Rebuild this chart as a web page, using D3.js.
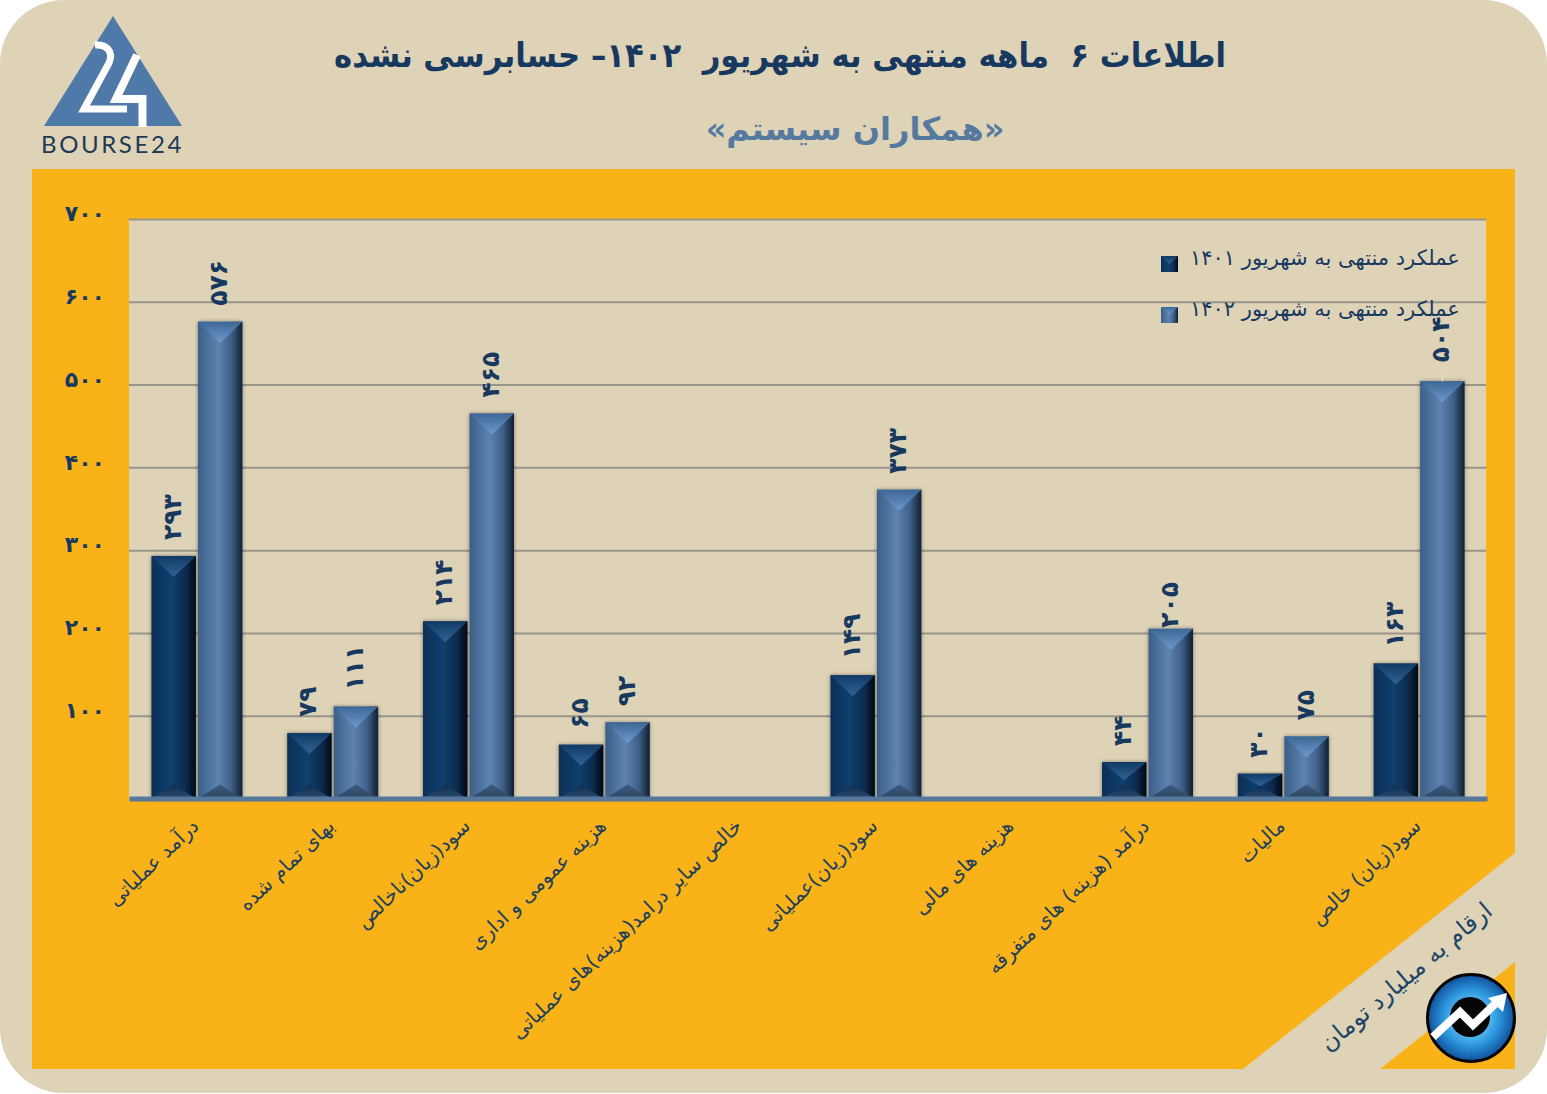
<!DOCTYPE html>
<html lang="fa">
<head>
  <meta charset="UTF-8">
  <title>همکاران سیستم</title>
  <style>
    html, body { margin: 0; padding: 0; background: #fff; }
    svg { display: block; }
    text { font-family: "DejaVu Sans", sans-serif; white-space: pre; }
  </style>
</head>
<body>
  <div id="chart"></div>
  <script src="https://d3js.org/d3.v7.min.js"></script>
  <script>
    // data
    const categories = [
      'درآمد عملیاتی',
      'بهای تمام شده',
      'سود(زیان)ناخالص',
      'هزینه عمومی و اداری',
      'خالص سایر درامد(هزینه)های عملیاتی',
      'سود(زیان)عملیاتی',
      'هزینه های مالی',
      'درآمد (هزینه) های متفرقه',
      'مالیات',
      'سود(زیان) خالص'
    ]
    const values1401 = [293, 79, 214, 65, null, 149, null, 44, 30, 163]
    const values1402 = [576, 111, 465, 92, null, 373, null, 205, 75, 504]
    const seriesNames = ['عملکرد منتهی به شهریور ۱۴۰۱', 'عملکرد منتهی به شهریور ۱۴۰۲']
    const yTicks = [100, 200, 300, 400, 500, 600, 700]

    const titleText = 'اطلاعات ۶  ماهه منتهی به شهریور  ۱۴۰۲– حسابرسی نشده'
    const subtitleText = '«همکاران سیستم»'
    const unitText = 'ارقام به میلیارد تومان'

    const width = 1547, height = 1094
    const plot = {left: 129, right: 1486, top: 219, bottom: 798.5}
    const navy = '#17395f'
    const beige = '#dfd3b7'
    const orange = '#f9b218'

    const toFa = n => String(n).replace(/\d/g, d => '۰۱۲۳۴۵۶۷۸۹'[d])

    const svg = d3.select('#chart').append('svg')
      .attr('width', width)
      .attr('height', height)
    const defs = svg.append('defs')

    function gradient (id, stops, vertical) {
      const g = defs.append('linearGradient').attr('id', id)
        .attr('x1', 0).attr('y1', 0)
        .attr('x2', vertical ? 0 : 1).attr('y2', vertical ? 1 : 0)
      stops.forEach(s => g.append('stop').attr('offset', s[0]).attr('stop-color', s[1]))
    }
    gradient('bar0', [[0, '#0b2f57'], [0.45, '#123f6e'], [0.75, '#0b2c50'], [1, '#010a15']])
    gradient('bar1', [[0, '#3c5f88'], [0.45, '#5d83b1'], [0.75, '#3f6088'], [1, '#0f1f33']])
    gradient('top0', [[0, '#123a66'], [1, '#2f6496']], true)
    gradient('top1', [[0, '#3d6794'], [1, '#7099cf']], true)
    gradient('low0', [[0, '#0d2f54'], [1, '#2b4a6a']], true)
    gradient('low1', [[0, '#3c5b80'], [1, '#2f465f']], true)

    const shadow = defs.append('filter').attr('id', 'barShadow')
      .attr('x', '-20%').attr('y', '-10%').attr('width', '140%').attr('height', '120%')
    shadow.append('feDropShadow')
      .attr('dx', 0).attr('dy', 0).attr('stdDeviation', 2)
      .attr('flood-color', '#000').attr('flood-opacity', 0.4)

    const eye = defs.append('radialGradient').attr('id', 'eye')
    eye.append('stop').attr('offset', 0.35).attr('stop-color', '#5fc0f2')
    eye.append('stop').attr('offset', 0.65).attr('stop-color', '#2a94dc')
    eye.append('stop').attr('offset', 1).attr('stop-color', '#10509a')

    // card and orange panel
    svg.append('rect')
      .attr('width', width).attr('height', height - 1)
      .attr('rx', 64).attr('fill', beige)
    svg.append('rect')
      .attr('x', 32).attr('y', 169)
      .attr('width', 1483).attr('height', 900)
      .attr('fill', orange)
    svg.append('path')
      .attr('d', 'M1515 853L1243 1069L1380 1069L1515 962Z')
      .attr('fill', beige)

    // logo top left
    const logo = svg.append('g')
    logo.append('path').attr('d', 'M113 16L182 126L44 126Z').attr('fill', '#4f79a8')
    logo.append('path')
      .attr('d', 'M95 45C106 44 114 51 109 63L84 109L127 109')
      .attr('fill', 'none').attr('stroke', '#fff').attr('stroke-width', 7)
    logo.append('path')
      .attr('d', 'M137 55L116 99L142.5 99L142.5 127')
      .attr('fill', 'none').attr('stroke', '#fff').attr('stroke-width', 8)
    logo.append('text')
      .attr('x', 112.5).attr('y', 153)
      .attr('text-anchor', 'middle')
      .attr('fill', '#1d3a55')
      .style('font-family', 'Lato, sans-serif')
      .style('font-size', '24px')
      .style('letter-spacing', '2.6px')
      .text('BOURSE24')

    // titles
    svg.append('text')
      .attr('x', 780).attr('y', 67)
      .attr('text-anchor', 'middle').attr('direction', 'rtl')
      .attr('fill', navy)
      .attr('textLength', 892).attr('lengthAdjust', 'spacingAndGlyphs')
      .style('font-size', '34px').style('font-weight', 'bold')
      .text(titleText)
    svg.append('text')
      .attr('x', 855).attr('y', 140)
      .attr('text-anchor', 'middle').attr('direction', 'rtl')
      .attr('fill', '#567a9f')
      .style('font-size', '32px').style('font-weight', 'bold')
      .text(subtitleText)

    // scales
    const x = d3.scaleBand()
      .domain(categories)
      .range([plot.left, plot.right + 1])
    const barW = 44.5, barGap = 2
    const xSeries = d3.scaleBand()
      .domain([0, 1])
      .range([x.bandwidth() / 2 - barW - barGap / 2, x.bandwidth() / 2 + barW + barGap / 2])
      .paddingInner(barGap / (barW + barGap))
    const y = d3.scaleLinear()
      .domain([0, 700])
      .range([plot.bottom, plot.top])

    // plot background and grid
    svg.append('rect')
      .attr('x', plot.left).attr('y', plot.top)
      .attr('width', plot.right - plot.left).attr('height', plot.bottom - plot.top)
      .attr('fill', beige)

    const yAxis = d3.axisLeft(y)
      .tickValues(yTicks)
      .tickSize(-(plot.right - plot.left))
      .tickFormat(toFa)
    const yG = svg.append('g')
      .attr('transform', 'translate(' + plot.left + ',0)')
      .call(yAxis)
    yG.select('.domain').remove()
    yG.selectAll('line').attr('stroke', '#98958a').attr('stroke-width', 2)
    yG.selectAll('text')
      .attr('x', -24).attr('dy', '0.08em')
      .attr('fill', navy)
      .style('font-size', '22px').style('font-weight', 'bold')

    // bars
    const rows = []
    ;[values1401, values1402].forEach((vals, s) => {
      vals.forEach((v, i) => {
        if (v !== null) rows.push({cat: categories[i], s: s, v: v})
      })
    })
    const bars = svg.append('g').selectAll('g.bar')
      .data(rows)
      .enter().append('g')
      .attr('class', 'bar')
      .attr('transform', d => 'translate(' + (x(d.cat) + xSeries(d.s)) + ',' + y(d.v) + ')')

    const bw = xSeries.bandwidth()
    const barH = d => y(0) - y(d.v)
    bars.append('rect')
      .attr('width', bw)
      .attr('height', barH)
      .attr('fill', d => 'url(#bar' + d.s + ')')
      .attr('filter', 'url(#barShadow)')
    bars.append('path')
      .attr('d', d => 'M0 ' + barH(d) + 'L' + bw + ' ' + barH(d) + 'L' + (bw / 2) + ' ' + (barH(d) - Math.min(14, barH(d) / 2)) + 'Z')
      .attr('fill', d => 'url(#low' + d.s + ')')
    bars.append('path')
      .attr('d', d => 'M0 0L' + bw + ' 0L' + (bw / 2) + ' ' + Math.min(21, barH(d) / 2) + 'Z')
      .attr('fill', d => 'url(#top' + d.s + ')')

    // value labels read upwards, two of them sit off the usual gap
    const labelGap = d => d.v === 205 ? 1 : d.v === 504 ? 19 : 16
    svg.append('g').selectAll('text')
      .data(rows)
      .enter().append('text')
      .attr('transform', d => {
        const cx = x(d.cat) + xSeries(d.s) + bw / 2 - 2
        return 'translate(' + cx + ',' + (y(d.v) - labelGap(d)) + ') rotate(-90)'
      })
      .attr('dy', '0.36em')
      .attr('fill', navy)
      .style('font-size', '25px').style('font-weight', 'bold')
      .text(d => toFa(d.v))

    // the moved 504 label keeps a faint leader line
    svg.append('g').selectAll('line')
      .data(rows.filter(d => d.v === 504))
      .enter().append('line')
      .attr('x1', d => x(d.cat) + xSeries(d.s) + bw / 2)
      .attr('x2', d => x(d.cat) + xSeries(d.s) + bw / 2)
      .attr('y1', d => y(d.v) - 8)
      .attr('y2', d => y(d.v))
      .attr('stroke', '#efe9da').attr('stroke-width', 1)

    // baseline and category labels
    const xAxis = d3.axisBottom(x).tickSize(0).tickPadding(0)
    const xG = svg.append('g')
      .attr('transform', 'translate(0,' + plot.bottom + ')')
      .call(xAxis)
    xG.select('.domain')
      .attr('stroke', '#55789c').attr('stroke-width', 5)
    xG.selectAll('text')
      .attr('direction', 'rtl')
      .attr('text-anchor', 'start')
      .attr('dy', null).attr('y', null)
      .attr('transform', 'translate(3,29) rotate(-43.5)')
      .attr('fill', '#1c3f5c')
      .style('font-size', '20px')

    // legend
    const legend = svg.append('g').selectAll('g')
      .data(seriesNames)
      .enter().append('g')
      .attr('transform', (d, i) => 'translate(1161,' + (256 + i * 51) + ')')
    legend.append('rect')
      .attr('width', 17).attr('height', 16)
      .attr('fill', (d, i) => 'url(#bar' + i + ')')
    legend.append('path')
      .attr('d', 'M0 0L17 0L8.5 8Z')
      .attr('fill', (d, i) => 'url(#top' + i + ')')
    legend.append('text')
      .attr('x', 29).attr('y', 9)
      .attr('fill', navy)
      .style('font-size', '21px')
      .attr('direction', 'rtl')
      .attr('text-anchor', 'end')
      .text(d => d)

    // unit note on the diagonal
    svg.append('text')
      .attr('transform', 'translate(1411,983) rotate(-40)')
      .attr('text-anchor', 'middle').attr('direction', 'rtl')
      .attr('fill', '#1c4568')
      .style('font-size', '24px')
      .text(unitText)

    // round logo bottom right
    const badge = svg.append('g').attr('transform', 'translate(1471,1018)')
    badge.append('circle').attr('r', 43.5)
      .attr('fill', 'url(#eye)').attr('stroke', '#050505').attr('stroke-width', 3)
    badge.append('circle').attr('cx', -1).attr('cy', -1).attr('r', 20).attr('fill', '#050505')
    badge.append('path')
      .attr('d', 'M-38 19L-11 -6L2 7L24 -14')
      .attr('fill', 'none').attr('stroke', '#fff').attr('stroke-width', 8)
    badge.append('path')
      .attr('d', 'M36 -25L32 -6L17 -20Z')
      .attr('fill', '#fff')
  </script>
</body>
</html>
